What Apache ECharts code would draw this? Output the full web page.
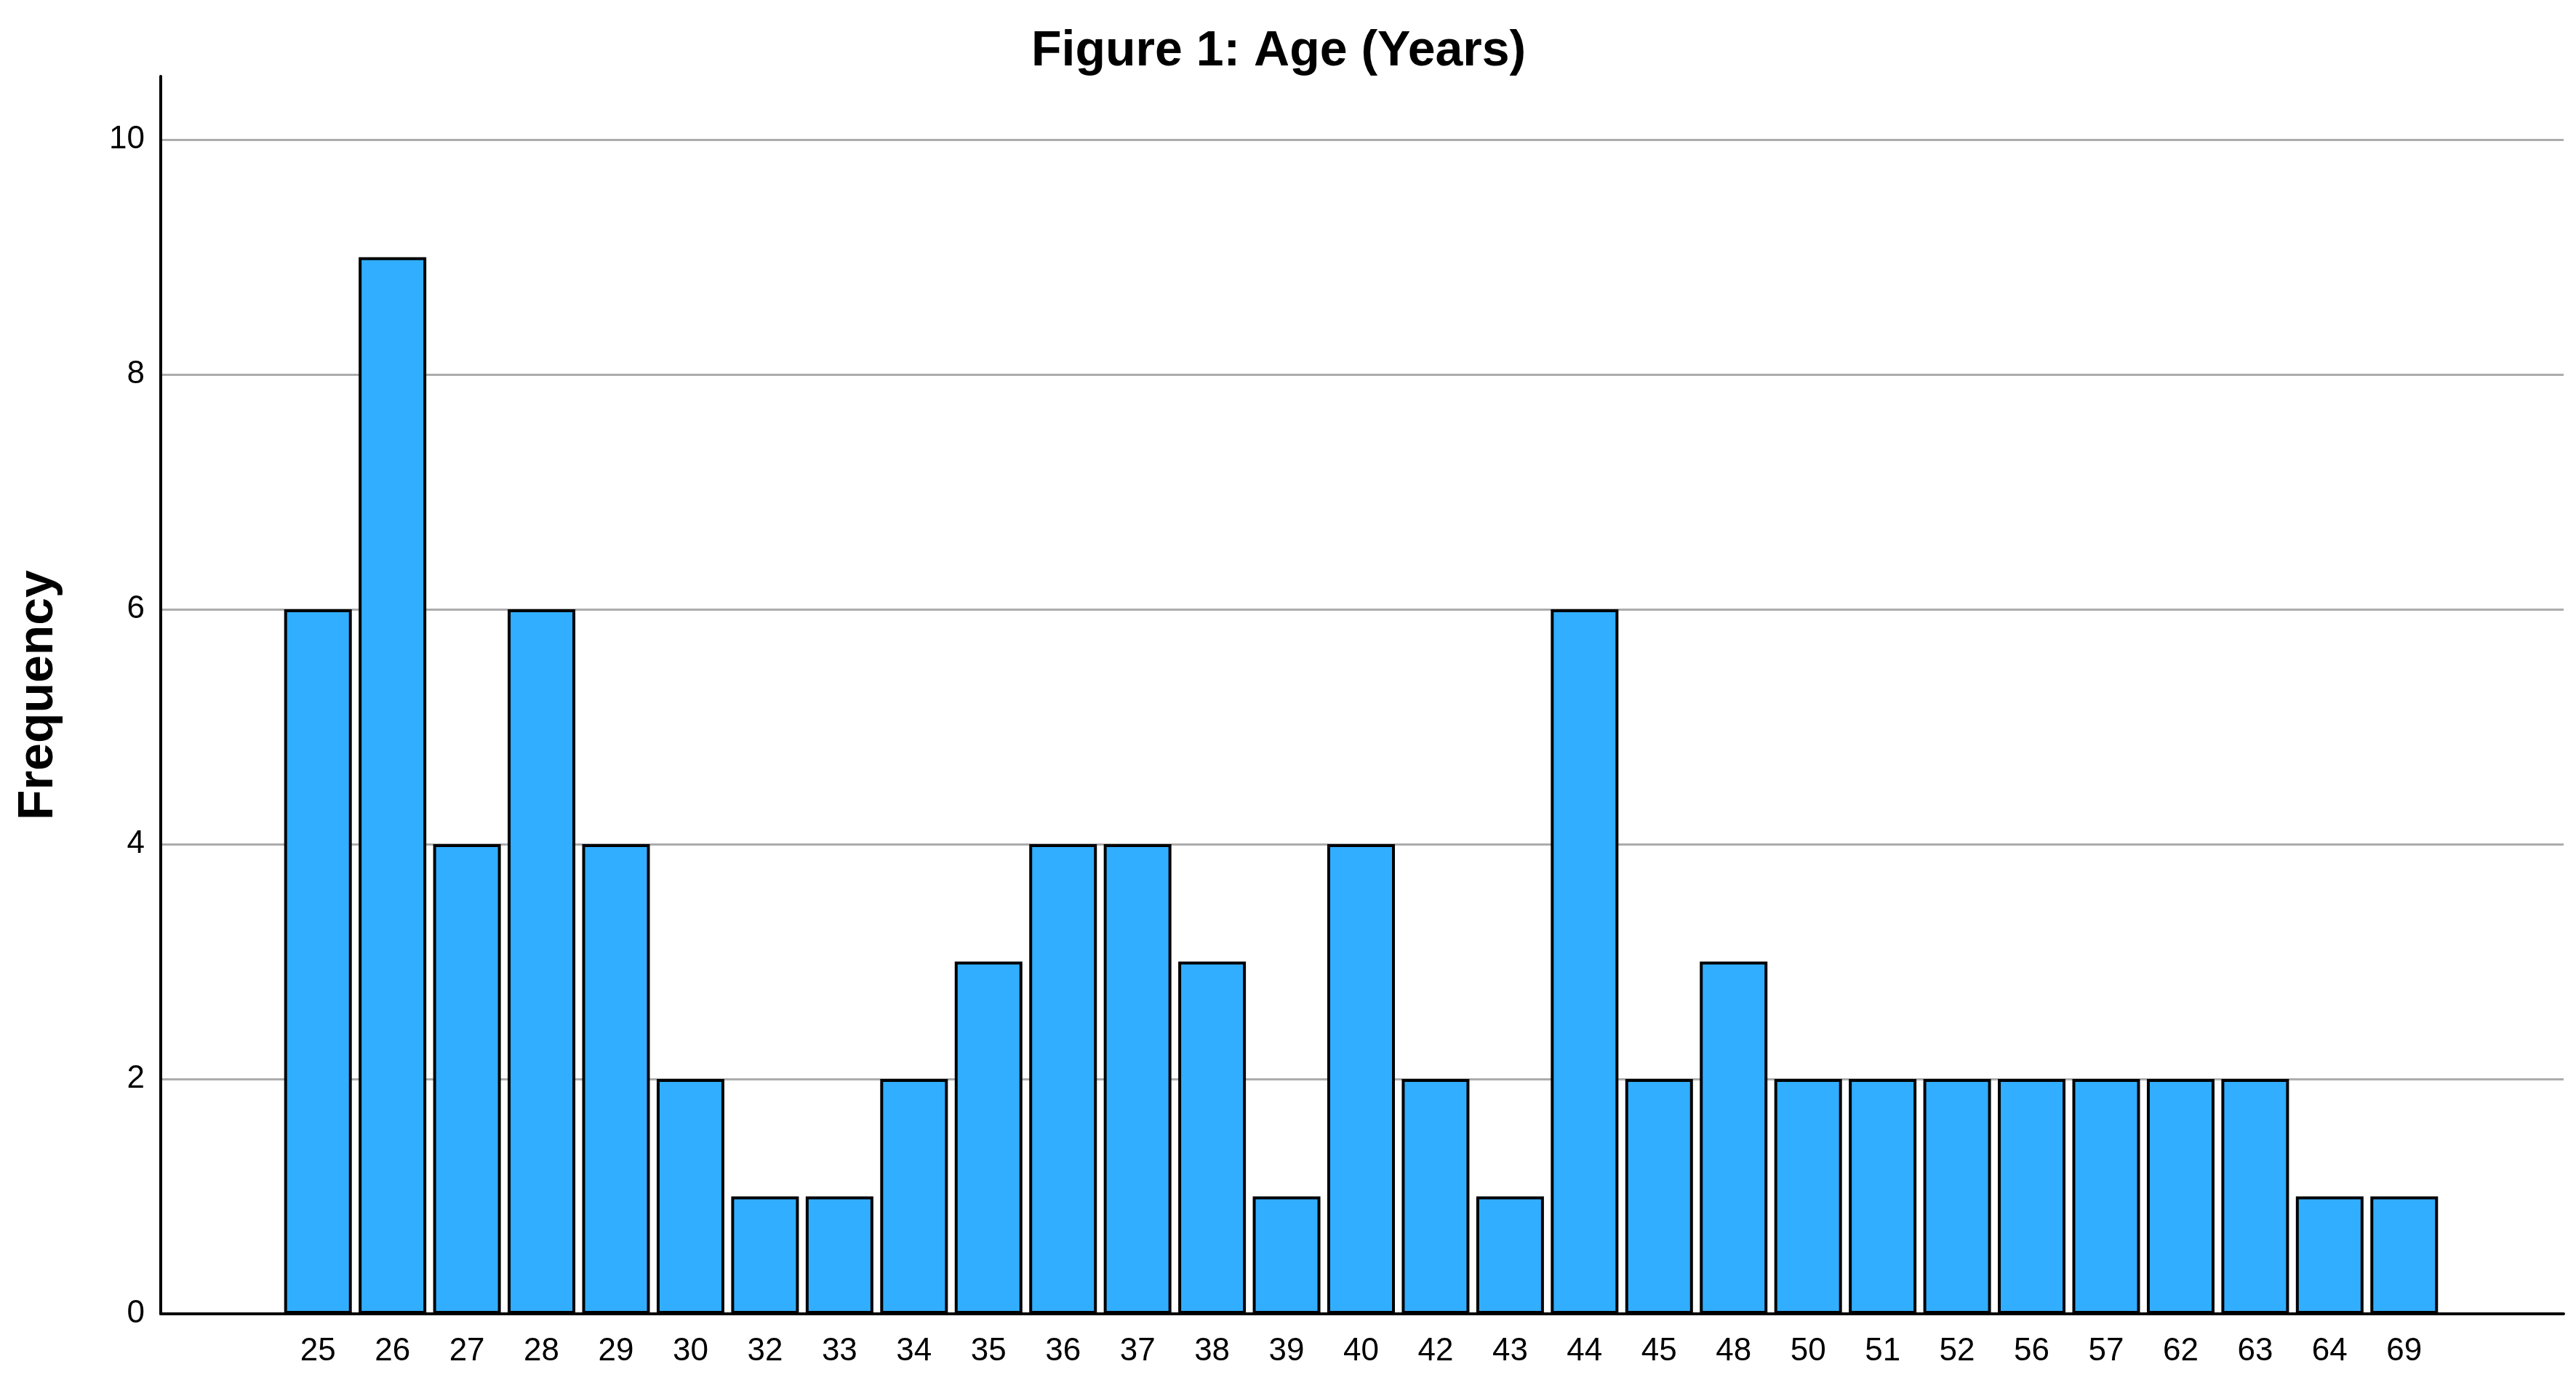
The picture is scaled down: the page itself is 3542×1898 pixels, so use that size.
<!DOCTYPE html>
<html>
<head>
<meta charset="utf-8">
<script src="https://cdn.jsdelivr.net/npm/echarts@6/dist/echarts.min.js"></script>
<style>html,body{margin:0;padding:0;background:#fff}#c{width:3542px;height:1898px}</style>
</head>
<body>
<div id="c"></div>
<script>
const titleText = 'Figure 1: Age (Years)';
const yAxisName = 'Frequency';
const ages = ['25','26','27','28','29','30','32','33','34','35','36','37','38','39','40','42','43','44','45','48','50','51','52','56','57','62','63','64','69'];
const frequency = [6,9,4,6,4,2,1,1,2,3,4,4,3,1,4,2,1,6,2,3,2,2,2,2,2,2,2,1,1];
const yMin = 0, yMax = 10.54, yStep = 2;

const chart = echarts.init(document.getElementById('c'), null, {renderer: 'canvas'});
const font = "'Liberation Sans', Arial, sans-serif";
chart.setOption({
  animation: false,
  backgroundColor: '#ffffff',
  title: {
    text: titleText, left: 1418, top: 37, padding: 0,
    textStyle: {fontFamily: font, fontWeight: 'bold', fontSize: 68, color: '#000'}
  },
  grid: [
    {left: 221, right: 17, top: 105, bottom: 91, containLabel: false},
    {left: 386, right: 185, top: 105, bottom: 91, containLabel: false}
  ],
  xAxis: [
    {gridIndex: 0, type: 'value', min: 0, max: 1,
     axisLine: {show: true, onZero: false, lineStyle: {color: '#000', width: 4}},
     axisTick: {show: false}, axisLabel: {show: false}, splitLine: {show: false}},
    {gridIndex: 1, type: 'category', data: ages, boundaryGap: true,
     axisLine: {show: false}, axisTick: {show: false},
     axisLabel: {fontFamily: font, fontSize: 44, color: '#000', margin: 30, interval: 0}}
  ],
  yAxis: [
    {gridIndex: 0, type: 'value', min: yMin, max: yMax, interval: yStep,
     name: yAxisName, nameLocation: 'middle', nameGap: 134,
     nameTextStyle: {fontFamily: font, fontWeight: 'bold', fontSize: 68, color: '#000'},
     axisLine: {show: true, lineStyle: {color: '#000', width: 4}},
     axisTick: {show: false},
     axisLabel: {fontFamily: font, fontSize: 44, color: '#000', margin: 22, showMaxLabel: false,
       formatter: v => (Math.abs(v - Math.round(v)) < 1e-6 ? String(Math.round(v)) : '')},
     splitLine: {show: true, showMaxLine: false, lineStyle: {color: '#acacac', width: 3}}},
    {gridIndex: 1, type: 'value', min: yMin, max: yMax, interval: yStep, show: false,
     splitLine: {show: false}}
  ],
  series: [{
    type: 'bar', xAxisIndex: 1, yAxisIndex: 1, data: frequency,
    barWidth: 93,
    itemStyle: {color: '#31aeff', borderColor: '#000', borderWidth: 4}
  }]
});
</script>
</body>
</html>
